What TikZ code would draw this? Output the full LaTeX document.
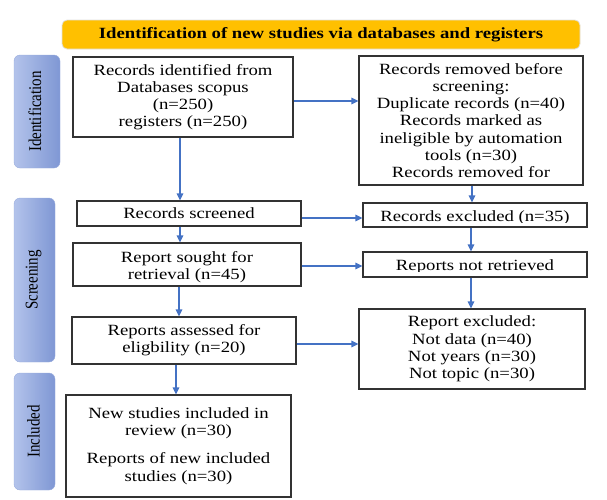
\documentclass[tikz,border=0pt]{standalone}
\usepackage{graphicx}
\usepackage{fontspec}
\setmainfont{Liberation Serif}[FakeStretch=1.2]
\newfontfamily\lblfont{Liberation Serif}
\usetikzlibrary{arrows.meta}
\definecolor{arrowblue}{HTML}{4472C4}
\definecolor{hdr}{HTML}{FFC000}
\definecolor{lblL}{HTML}{B3C3EB}
\definecolor{lblR}{HTML}{7F97D4}
\definecolor{boxline}{HTML}{333333}
\newcommand{\fsz}{\fontsize{15.6}{17.2}\selectfont}
\newcommand{\lblstretch}[1]{\scalebox{1}[1.2]{#1}}
\begin{document}
\begin{tikzpicture}[x=1pt,y=-1pt,
  box/.style={draw=boxline, line width=1.2pt, fill=white, rectangle, inner sep=0pt, align=center, font=\fsz},
  lbl/.style={rounded corners=6pt, left color=lblL, right color=lblR, draw=lblR!80, line width=0.4pt, inner sep=0pt},
  lbltext/.style={rotate=90, font=\lblfont\fontsize{15}{17}\selectfont, inner sep=0pt},
  hdrbox/.style={rounded corners=5pt, fill=hdr, draw=black!12, line width=0.8pt, inner sep=0pt, font=\fsz\bfseries},
  arr/.style={draw=arrowblue, line width=1.3pt, -{Triangle[length=7pt,width=6.5pt]}},
  plain/.style={font=\fsz, inner sep=0pt, align=center}
]
\useasboundingbox (0,0) rectangle (607,499);

% header
\node[hdrbox, minimum width=518pt, minimum height=29pt] (hdr) at (321,34.5) {Identification of new studies via databases and registers};

% side labels
\node[lbl, minimum width=46pt, minimum height=113pt] (L1) at (37,111.5) {};
\node[lbltext] (L1t) at ([xshift=-2pt]L1.center) {\lblstretch{Identification}};
\node[lbl, minimum width=41pt, minimum height=164pt] (L2) at (34.5,280) {};
\node[lbltext] (L2t) at ([xshift=-1pt]L2.center) {\lblstretch{Screening}};
\node[lbl, minimum width=41pt, minimum height=117pt] (L3) at (34.5,431.5) {};
\node[lbltext] (L3t) at ([xshift=-1pt]L3.center) {\lblstretch{Included}};

% boxes
\node[box, minimum width=220pt, minimum height=80pt] (b1) at (183,97)
  {Records identified from\\Databases scopus\\(n=250)\\registers (n=250)};
\node[box, minimum width=224pt, minimum height=129pt] (b2) at (471,120.5)
  {Records removed before\\screening:\\Duplicate records (n=40)\\Records marked as\\ineligible by automation\\tools (n=30)\\Records removed for};
\node[box, minimum width=224pt, minimum height=25pt] (b3) at (189,213.5) {Records screened};
\node[box, minimum width=224pt, minimum height=24pt,
  path picture={\clip ([yshift=5pt]path picture bounding box.south west) rectangle (path picture bounding box.north east);
    \node[plain] (b4t) at ([yshift=-2.7pt]path picture bounding box.center) {Records excluded (n=35)};}]
  (b4) at (475,215) {};
\node[box, minimum width=228pt, minimum height=43pt] (b5) at (187,264.5) {};
\node[plain] (b5t) at (187,267) {Report sought for\\retrieval (n=45)};
\node[box, minimum width=224pt, minimum height=25pt,
  path picture={\clip ([yshift=6pt]path picture bounding box.south west) rectangle (path picture bounding box.north east);
    \node[plain] (b6t) at ([yshift=-2.2pt]path picture bounding box.center) {Reports not retrieved};}]
  (b6) at (475,264.5) {};
\node[box, minimum width=224pt, minimum height=47pt] (b7) at (184,340.5) {Reports assessed for\\eligbility (n=20)};
\node[box, minimum width=226pt, minimum height=80pt] (b8) at (472,349)
  {Report excluded:\\Not data (n=40)\\Not years (n=30)\\Not topic (n=30)};
\node[box, minimum width=225pt, minimum height=102pt] (b9) at (178.5,446)
  {New studies included in\\review (n=30)\\[11pt]Reports of new included\\studies (n=30)};

% guide coordinates
\coordinate (xa) at (180,0);
\coordinate (xb) at (179,0);
\coordinate (xc) at (176,0);
\coordinate (xd) at (472,0);
\coordinate (xe) at (471,0);
\coordinate (ya) at (0,101);
\coordinate (yb) at (0,218);
\coordinate (yc) at (0,266);
\coordinate (yd) at (0,344);

% arrows
\draw[arr] (b1.south -| xa) -- (b3.north -| xa);
\draw[arr] (b3.south -| xa) -- (b5.north -| xa);
\draw[arr] (b5.south -| xb) -- (b7.north -| xb);
\draw[arr] (b7.south -| xc) -- (b9.north -| xc);
\draw[arr] (b2.south -| xd) -- (b4.north -| xd);
\draw[arr] (b4.south -| xe) -- (b6.north -| xe);
\draw[arr] (b6.south -| xe) -- (b8.north -| xe);
\draw[arr] (b1.east |- ya) -- (b2.west |- ya);
\draw[arr] (b3.east |- yb) -- (b4.west |- yb);
\draw[arr] (b5.east |- yc) -- (b6.west |- yc);
\draw[arr] (b7.east |- yd) -- (b8.west |- yd);
\end{tikzpicture}
\end{document}
